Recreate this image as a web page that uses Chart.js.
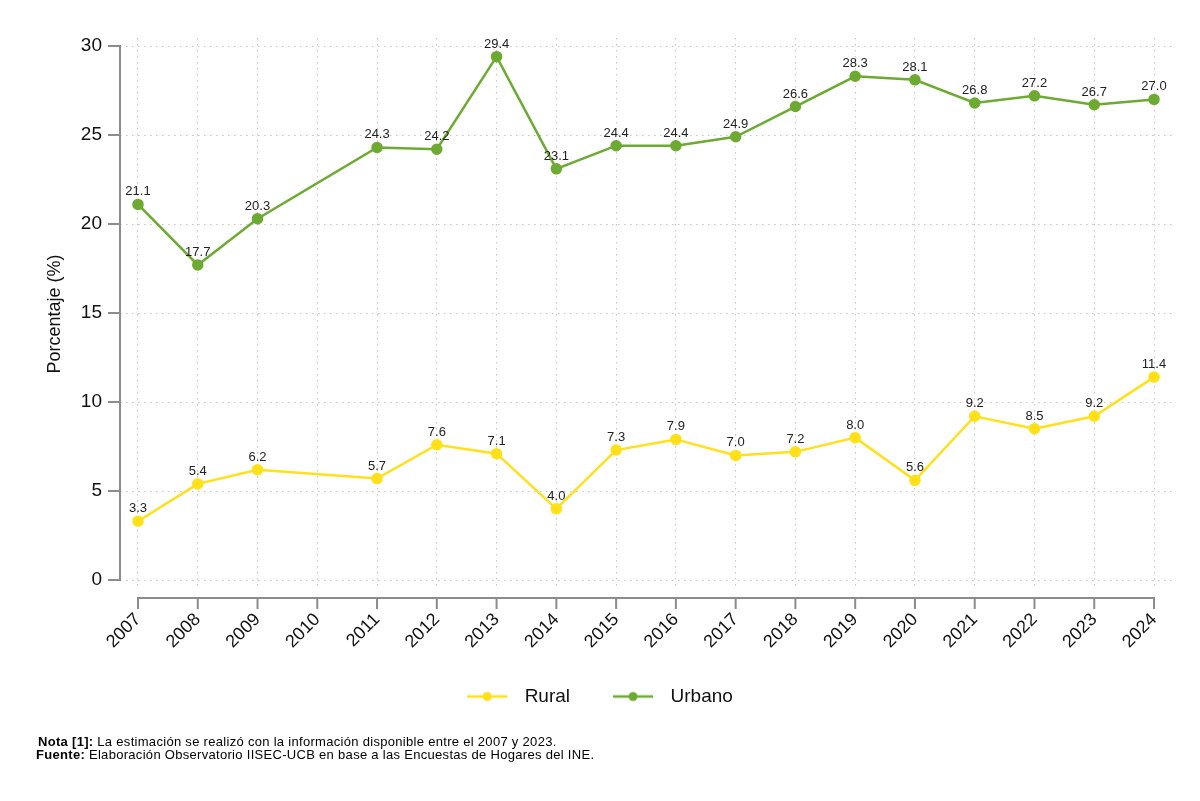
<!DOCTYPE html>
<html><head><meta charset="utf-8">
<script src="https://cdn.jsdelivr.net/npm/chart.js@4.4.1/dist/chart.umd.min.js"></script>
<style>html,body{margin:0;padding:0;background:#fff;}#wrap{width:1200px;height:801px;position:relative;}</style>
</head><body><div id="wrap"><canvas id="c" width="1200" height="801"></canvas></div>
<script>
const years = [2007,2008,2009,2010,2011,2012,2013,2014,2015,2016,2017,2018,2019,2020,2021,2022,2023,2024];
const rural = [3.3,5.4,6.2,null,5.7,7.6,7.1,4.0,7.3,7.9,7.0,7.2,8.0,5.6,9.2,8.5,9.2,11.4];
const urbano = [21.1,17.7,20.3,null,24.3,24.2,29.4,23.1,24.4,24.4,24.9,26.6,28.3,28.1,26.8,27.2,26.7,27.0];
const yTicks = [0,5,10,15,20,25,30];
const seriesNames = ['Rural','Urbano'];
const yTitle = 'Porcentaje (%)';
const notes = [['Nota [1]:',' La estimación se realizó con la información disponible entre el 2007 y 2023.'],['Fuente:',' Elaboración Observatorio IISEC-UCB en base a las Encuestas de Hogares del INE.']];

const FONT = '"Liberation Sans",Arial,sans-serif';
const cRural = '#FFE019';
const cUrb = '#6DAA32';
const axisGray = '#8c8c8c';

function legendImg(color){
  const cv = document.createElement('canvas'); cv.width = 56; cv.height = 14;
  const g = cv.getContext('2d');
  g.strokeStyle = color; g.lineWidth = 2.5; g.beginPath(); g.moveTo(8,7); g.lineTo(48,7); g.stroke();
  g.fillStyle = color; g.beginPath(); g.arc(28,7,4.5,0,Math.PI*2); g.fill();
  return cv;
}
const legendImgs = [legendImg(cRural), legendImg(cUrb)];

const axesPlugin = {
  id:'axesLines',
  afterDraw(chart){
    const ctx = chart.ctx, xs = chart.scales.x, ys = chart.scales.y, ca = chart.chartArea;
    ctx.save(); ctx.strokeStyle = axisGray; ctx.lineWidth = 2; ctx.lineCap = 'butt';
    const ax = ca.left;
    ctx.beginPath();
    ctx.moveTo(ax, ys.getPixelForValue(yTicks[0]) + 1); ctx.lineTo(ax, ys.getPixelForValue(yTicks[yTicks.length-1]) - 1);
    yTicks.forEach(v => { const p = ys.getPixelForValue(v); ctx.moveTo(ax - 12, p); ctx.lineTo(ax + 1, p); });
    const ay = ca.bottom + 8;
    ctx.moveTo(xs.getPixelForValue(years[0]) - 1, ay); ctx.lineTo(xs.getPixelForValue(years[years.length-1]) + 1, ay);
    years.forEach(v => { const p = xs.getPixelForValue(v); ctx.moveTo(p, ay - 1); ctx.lineTo(p, ay + 11); });
    ctx.stroke();
    // footnotes
    ctx.fillStyle = '#000'; ctx.textBaseline = 'alphabetic'; ctx.textAlign = 'left';
    try { ctx.letterSpacing = '0.3px'; } catch(e) {}
    const nx = [38, 36], ny = [746, 759];
    notes.forEach((n, i) => {
      ctx.font = 'bold 13px ' + FONT; ctx.fillText(n[0], nx[i], ny[i]);
      const w = ctx.measureText(n[0]).width;
      ctx.font = '13px ' + FONT; ctx.fillText(n[1], nx[i] + w, ny[i]);
    });
    ctx.restore();
  }
};
const labelPlugin = {
  id:'valLabels',
  afterDatasetsDraw(chart){
    const ctx = chart.ctx;
    ctx.save(); ctx.font = '13px ' + FONT; ctx.fillStyle = '#222'; ctx.textAlign = 'center'; ctx.textBaseline = 'alphabetic';
    chart.data.datasets.forEach((ds, i) => {
      const meta = chart.getDatasetMeta(i);
      meta.data.forEach((pt, j) => {
        const v = ds.data[j].y; if (v === null) return;
        ctx.fillText(v.toFixed(1), pt.x, pt.y - 9);
      });
    });
    ctx.restore();
  }
};

new Chart(document.getElementById('c'), {
  type:'line',
  data:{ datasets:[
    {label:seriesNames[0], data: years.map((y,i)=>({x:y, y:rural[i]})), borderColor:cRural, backgroundColor:cRural, pointBackgroundColor:cRural, pointBorderColor:cRural, borderWidth:2.5, pointRadius:4.5, tension:0, spanGaps:true},
    {label:seriesNames[1], data: years.map((y,i)=>({x:y, y:urbano[i]})), borderColor:cUrb, backgroundColor:cUrb, pointBackgroundColor:cUrb, pointBorderColor:cUrb, borderWidth:2.5, pointRadius:4.5, tension:0, spanGaps:true}
  ]},
  options:{
    responsive:false, animation:false, events:[],
    layout:{padding:{left:20, right:28, top:38, bottom:85}},
    plugins:{
      tooltip:{enabled:false},
      legend:{position:'bottom', labels:{usePointStyle:true, pointStyleWidth:56, padding:35, color:'#111', font:{size:19, family:FONT},
        generateLabels(chart){ return chart.data.datasets.map((ds,i)=>({text:ds.label, fillStyle:ds.borderColor, strokeStyle:ds.borderColor, lineWidth:0, pointStyle:legendImgs[i], hidden:false, datasetIndex:i, fontColor:'#111'})); }}}
    },
    scales:{
      x:{type:'linear', min:2006.699, max:2024.301,
        afterBuildTicks(s){ s.ticks = years.map(v=>({value:v})); },
        afterFit(s){ s.height = 62; },
        grid:{color:'#c4c4c4', lineWidth:1, drawTicks:false},
        border:{display:false, dash:[1.5,4.5]},
        ticks:{autoSkip:false, maxRotation:45, minRotation:45, padding:19, color:'#111', font:{size:18, family:FONT}, callback:(v)=>String(v)}
      },
      y:{type:'linear', min:-0.56, max:30.45,
        afterBuildTicks(s){ s.ticks = yTicks.map(v=>({value:v})); },
        afterFit(s){ s.width = 100; },
        grid:{color:'#c4c4c4', lineWidth:1, drawTicks:false},
        border:{display:false, dash:[1.5,4.5]},
        ticks:{padding:18, color:'#111', font:{size:19, family:FONT}, callback:(v)=>String(v)},
        title:{display:true, text:yTitle, color:'#111', font:{size:18, family:FONT}, padding:{top:24, bottom:0}}
      }
    }
  },
  plugins:[axesPlugin, labelPlugin]
});
</script></body></html>
